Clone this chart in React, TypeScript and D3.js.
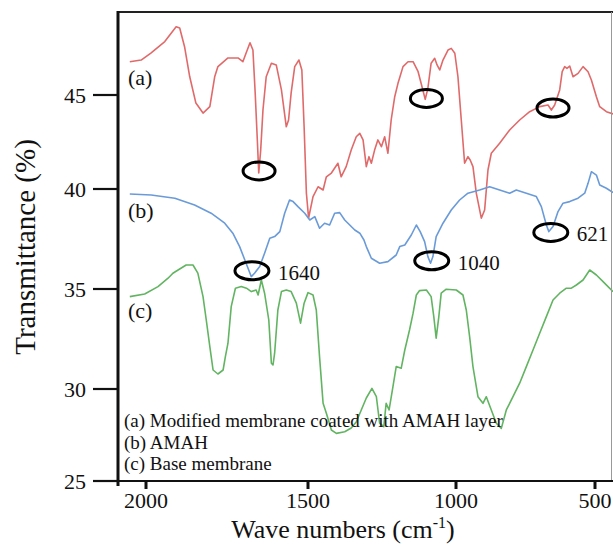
import React from "react";
import * as d3 from "d3";

// ---- data ----
const xTicks = [2000, 1500, 1000, 500];
const yTicks = [25, 30, 35, 40, 45];

const waveA = [2050,2015,1985,1942,1907,1896,1881,1865,1846,1824,1803,1788,1778,1747,1716,1701,1691,1679,1670,1663,1656,1652,1646,1639,1629,1613,1598,1582,1567,1560,1552,1541,1528,1519,1512,1505,1498,1483,1466,1449,1438,1421,1399,1388,1371,1354,1337,1325,1314,1303,1294,1286,1275,1264,1252,1241,1230,1219,1207,1196,1179,1162,1145,1128,1112,1104,1095,1084,1072,1064,1055,1044,1027,1016,1004,993,981,969,957,949,939,927,909,897,885,873,843,807,771,735,699,669,657,645,627,618,609,601,591,579,561,543,525,513,495,483,459,435];
const transA = [46.77,46.86,47.23,47.84,48.63,48.56,47.57,45.97,44.57,44.04,44.38,45.97,46.51,46.97,46.97,46.77,47.23,47.78,47.39,45.11,42.45,40.85,42.07,44.2,45.97,46.69,46.6,45.27,43.31,43.67,45.11,46.51,46.86,46.33,43.31,39.8,38.55,39.62,40.12,39.95,40.65,40.85,41.37,40.65,41.19,42.07,42.78,42.96,42.61,41.19,41.72,41.37,42.07,42.61,42.25,42.78,41.9,43.67,44.91,45.62,46.51,46.77,46.77,46.24,45.27,44.77,45.36,46.69,46.95,46.6,46.33,46.86,47.39,47.48,47.22,45.97,43.67,41.37,41.72,41.54,41.19,39.79,38.54,38.95,41.01,41.9,42.43,43.14,43.67,44.11,44.38,44.47,44.2,44.47,45.27,46.24,46.51,46.42,46.54,45.97,46.15,46.51,46.24,45.8,44.91,44.38,44.11,43.99];

const waveB = [2050,1984,1911,1850,1799,1757,1732,1711,1695,1683,1675,1665,1649,1634,1618,1603,1587,1572,1557,1546,1531,1510,1494,1477,1461,1444,1427,1410,1393,1376,1359,1342,1325,1311,1303,1286,1258,1230,1202,1190,1173,1151,1134,1121,1106,1095,1086,1078,1067,1044,1016,987,957,915,879,843,807,783,747,711,693,675,666,651,633,615,591,561,537,525,513,495,483,459,435];
const transB = [39.75,39.7,39.54,39.2,38.79,38.29,37.79,37.12,36.45,35.95,35.62,35.79,36.12,36.79,37.54,37.62,37.87,38.79,39.45,39.37,39.12,38.79,38.45,38.62,38.04,38.29,38.2,38.79,38.82,38.45,38.2,37.95,37.79,37.45,37.12,36.54,36.29,36.37,36.7,37.12,37.2,37.7,38.2,37.87,37.37,36.62,36.29,36.62,37.62,38.29,38.95,39.45,39.79,39.95,40.12,39.95,39.79,39.95,39.79,39.62,39.12,38.2,37.87,38.12,38.87,39.29,39.37,39.54,39.79,40.3,40.92,40.74,40.21,40.04,39.82];

const waveC = [2050,2004,1963,1932,1917,1901,1876,1855,1840,1824,1814,1803,1793,1778,1762,1755,1747,1737,1724,1706,1690,1675,1660,1654,1644,1634,1621,1613,1608,1603,1593,1582,1567,1552,1536,1523,1512,1500,1483,1472,1461,1449,1438,1421,1404,1376,1354,1337,1320,1303,1284,1269,1258,1244,1236,1226,1213,1202,1185,1173,1157,1145,1134,1123,1100,1084,1075,1067,1058,1050,1033,999,975,963,951,939,921,903,891,873,855,837,819,795,771,747,723,699,675,651,627,603,585,567,543,519,495,471,435];
const transC = [34.62,34.75,35.12,35.54,35.79,35.95,36.2,36.2,35.79,34.62,33.45,32.12,30.95,30.75,30.95,31.62,32.29,34.12,35.04,35.12,35.04,34.87,34.95,34.7,35.45,34.79,33.45,31.29,31.2,31.79,33.95,34.87,34.95,34.87,34.29,33.29,34.29,34.82,34.7,33.95,31.62,29.22,28.68,27.77,27.59,27.68,27.88,28.21,28.86,29.51,30.03,29.58,28.14,27.95,29.22,28.86,30.12,31.12,31.04,31.95,32.95,33.79,34.7,34.92,34.95,34.62,33.62,32.54,33.62,34.79,34.99,34.95,34.7,33.95,32.62,31.12,29.58,29.22,29.58,28.86,28.14,27.86,28.86,29.58,30.29,31.12,31.95,32.79,33.62,34.45,34.79,35.04,35.04,35.2,35.45,35.95,35.7,35.37,34.87];

const peaksAWave = [1651, 1100, 651];
const peaksAT = [40.96, 44.82, 44.31];
const peaksBWave = [1673, 1082, 659];
const peaksBT = [35.91, 36.41, 37.83];
const peaksBLabel = ["1640", "1040", "621"];

const curveLabels = ["(a)", "(b)", "(c)"];
const legendLines = [
  "(a) Modified membrane coated with AMAH layer",
  "(b) AMAH",
  "(c) Base membrane",
];

const W = 613, H = 544;
const left = 118, right = 613, top = 12, bottom = 481;
const FONT = "'Liberation Serif', 'Times New Roman', serif";

export default function App() {
  const x = d3.scaleLinear().domain([2000, 1500, 1000, 500]).range([146, 308, 456, 595]);
  const y = d3.scaleLinear().domain([25, 30, 35, 40, 45]).range([481, 389, 289, 189, 95]);

  const mk = (ws: number[], ts: number[]) =>
    d3.line<number>().x((_, i) => x(ws[i])).y((_, i) => y(ts[i]))(ws.map((w) => w)) || "";

  const series = [
    { d: mk(waveA, transA), color: "#e06a6a" },
    { d: mk(waveB, transB), color: "#6a9bd8" },
    { d: mk(waveC, transC), color: "#62b462" },
  ];

  const labelY = [85, 218, 318];

  return (
    <svg width={W} height={H} style={{ position: "absolute", left: 0, top: 0, background: "#fff" }} fontFamily={FONT}>
      <defs>
        <clipPath id="plot">
          <rect x={left} y={top} width={right - left} height={bottom - top} />
        </clipPath>
      </defs>
      <rect x={0} y={0} width={W} height={H} fill="#fff" />

      {/* curves */}
      <g clipPath="url(#plot)">
        {series.map((s, i) => (
          <path key={i} d={s.d} fill="none" stroke={s.color} strokeWidth={1.6} strokeLinejoin="round" />
        ))}
      </g>

      {/* frame */}
      <line x1={left} x2={right} y1={top} y2={top} stroke="#222" strokeWidth={2.2} />
      <line x1={611.5} x2={611.5} y1={top} y2={bottom} stroke="#999" strokeWidth={1} />
      <line x1={93} x2={right} y1={bottom} y2={bottom} stroke="#111" strokeWidth={2.2} />
      <line x1={left} x2={left} y1={top - 1} y2={bottom + 5} stroke="#111" strokeWidth={3} />

      {/* y ticks */}
      {yTicks.map((t) => (
        <g key={t}>
          <line x1={93} x2={left} y1={y(t)} y2={y(t)} stroke="#111" strokeWidth={2.2} />
          <text x={86} y={y(t)} dy="0.35em" textAnchor="end" fontSize={22} fill="#111">
            {t}
          </text>
        </g>
      ))}

      {/* x ticks */}
      {xTicks.map((t) => (
        <g key={t}>
          <line x1={x(t)} x2={x(t)} y1={bottom} y2={bottom + 8} stroke="#111" strokeWidth={3} />
          <text x={x(t)} y={508} textAnchor="middle" fontSize={22} fill="#111">
            {t}
          </text>
        </g>
      ))}

      {/* axis titles */}
      <text x={343} y={538} textAnchor="middle" fontSize={26} fill="#111">
        Wave numbers (cm<tspan dy={-10} fontSize={16}>-1</tspan>
        <tspan dy={10}>)</tspan>
      </text>
      <text transform="translate(35,247) rotate(-90)" textAnchor="middle" fontSize={29} fill="#111">
        Transmittance (%)
      </text>

      {/* curve labels */}
      {curveLabels.map((l, i) => (
        <text key={l} x={128} y={labelY[i]} fontSize={22} fill="#111">
          {l}
        </text>
      ))}

      {/* marked peaks */}
      {peaksAWave.map((w, i) => (
        <ellipse key={"a" + i} cx={x(w)} cy={y(peaksAT[i])} rx={16} ry={9} fill="none" stroke="#000" strokeWidth={3} />
      ))}
      {peaksBWave.map((w, i) => (
        <g key={"b" + i}>
          <ellipse cx={x(w)} cy={y(peaksBT[i])} rx={17} ry={9} fill="none" stroke="#000" strokeWidth={3} />
          <text x={x(w) + 26} y={y(peaksBT[i]) + 9} fontSize={21} fill="#111">
            {peaksBLabel[i]}
          </text>
        </g>
      ))}

      {/* legend text */}
      {legendLines.map((l, i) => (
        <text key={l} x={124} y={427 + i * 21.7} fontSize={19} fill="#111">
          {l}
        </text>
      ))}
    </svg>
  );
}
